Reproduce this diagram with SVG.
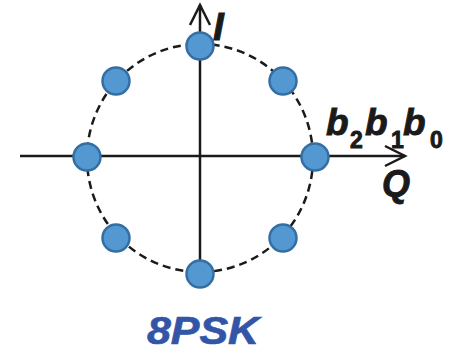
<svg xmlns="http://www.w3.org/2000/svg" width="451" height="352" viewBox="0 0 451 352">
<style>
.axis{stroke:#1a1a1a;stroke-width:2.5;fill:none}
.ring{stroke:#1a1a1a;stroke-width:2.5;fill:none;stroke-dasharray:8 5}
.dot{fill:#5498d2;stroke:#356ea3;stroke-width:2.5}
.lbl{font-family:"Liberation Sans",Arial,sans-serif;font-weight:bold;font-style:italic;fill:#1a1a1a;stroke:#1a1a1a;stroke-width:0.9}
.sub{font-size:23px;font-style:normal}
</style>
<rect width="451" height="352" fill="#fff"/>
<g id="connectors">
<ellipse class="ring" cx="200" cy="158" rx="113" ry="114"/>
<line class="axis" x1="20" y1="156" x2="405" y2="156"/>
<polyline class="axis" points="385,146 405,156 385,166"/>
<line class="axis" x1="200" y1="274" x2="200" y2="5"/>
<polyline class="axis" points="190,25 200,5 210,25"/>
</g>
<g id="p0"><circle class="dot" cx="200" cy="46" r="13.5"/></g>
<g id="p1"><circle class="dot" cx="283" cy="81" r="13.5"/></g>
<g id="p2"><circle class="dot" cx="315" cy="157" r="13.5"/></g>
<g id="p3"><circle class="dot" cx="283" cy="238" r="13.5"/></g>
<g id="p4"><circle class="dot" cx="200" cy="274" r="13.5"/></g>
<g id="p5"><circle class="dot" cx="116" cy="238" r="13.5"/></g>
<g id="p6"><circle class="dot" cx="87" cy="157" r="13.5"/></g>
<g id="p7"><circle class="dot" cx="116" cy="81" r="13.5"/></g>
<g id="labels">
<text class="lbl" x="213" y="40" font-size="39">I</text>
<text class="lbl" font-size="37" y="135"><tspan x="326">b</tspan><tspan class="sub" x="350" dy="13">2</tspan><tspan x="365" dy="-13">b</tspan><tspan class="sub" x="391" dy="13">1</tspan><tspan x="403" dy="-13">b</tspan><tspan class="sub" x="430" dy="13">0</tspan></text>
<text class="lbl" x="382" y="196" font-size="36">Q</text>
<text class="lbl" x="147" y="344" font-size="38" textLength="112" lengthAdjust="spacingAndGlyphs" style="fill:#3355a8;stroke:#3355a8;stroke-width:0.7">8PSK</text>
</g>
</svg>
